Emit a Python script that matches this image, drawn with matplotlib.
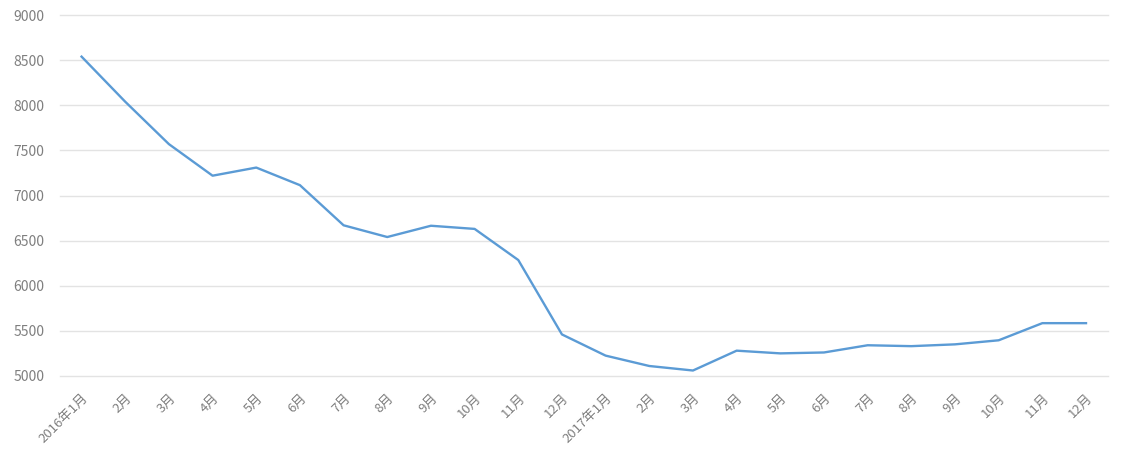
import matplotlib.pyplot as plt

plt.rcParams['font.family'] = ['Noto Sans CJK SC', 'DejaVu Sans']

months = ['2016年1月', '2月', '3月', '4月', '5月', '6月', '7月', '8月', '9月', '10月', '11月', '12月',
          '2017年1月', '2月', '3月', '4月', '5月', '6月', '7月', '8月', '9月', '10月', '11月', '12月']
values = [8540, 8040, 7570, 7220, 7310, 7115, 6670, 6540, 6665, 6630, 6285, 5460,
          5225, 5110, 5060, 5280, 5250, 5260, 5340, 5330, 5350, 5395, 5585, 5585]

fig = plt.figure(figsize=(11.27, 4.59), dpi=100)
ax = fig.add_axes([0.053, 0.181, 0.93, 0.786])

x = range(len(months))
ax.plot(x, values, color='#5B9BD5', linewidth=1.7)

ax.set_xlim(-0.5, len(months) - 0.5)
ax.set_ylim(5000, 9000)
ax.set_yticks(range(5000, 9001, 500))
ax.grid(axis='y', color='#E3E3E3', linewidth=1)
for g in ax.get_ygridlines():
    g.set_clip_on(False)
ax.set_axisbelow(True)

ax.set_xticks(list(x))
ax.set_xticklabels(months, rotation=45, ha='right', va='top', rotation_mode='anchor')
for s in ax.spines.values():
    s.set_visible(False)
ax.tick_params(axis='both', length=0, colors='#7F7F7F')
ax.tick_params(axis='x', pad=11, labelsize=9.5)
ax.tick_params(axis='y', pad=11, labelsize=10)

fig.savefig('out.png', dpi=100)
